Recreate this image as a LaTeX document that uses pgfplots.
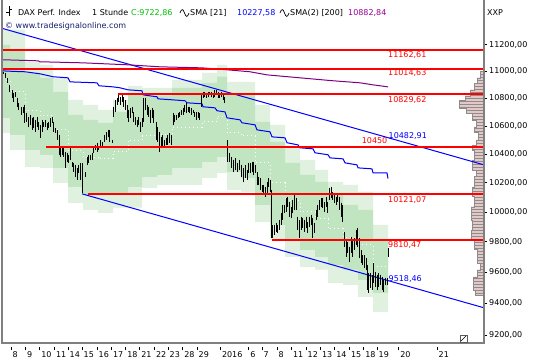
\documentclass[border=0pt]{standalone}
\usepackage{pgfplots}
\pgfplotsset{compat=1.18}
\usetikzlibrary{patterns}
\usepackage{fontspec}
\setmainfont{DejaVu Sans}
\definecolor{bandL}{RGB}{224,241,224}
\definecolor{bandD}{RGB}{192,229,192}
\definecolor{smaB}{RGB}{0,0,255}
\definecolor{smaP}{RGB}{128,0,128}
\definecolor{lineR}{RGB}{255,0,0}
\definecolor{txtG}{RGB}{0,192,0}
\definecolor{txtP}{RGB}{150,0,150}
\definecolor{profF}{RGB}{228,200,200}
\definecolor{profD}{RGB}{140,140,140}
\definecolor{webB}{RGB}{20,30,110}
\newcommand{\tk}[1]{\rule[7.6pt]{0.6pt}{3pt}\hspace{1.5pt}#1}
\newcommand{\fs}{\fontsize{8}{9.6}\selectfont}
\begin{document}
\begin{tikzpicture}[font=\fs]
\useasboundingbox (0,0) rectangle (540pt,360pt);
\fill[white] (0,0) rectangle (540pt,360pt);
\begin{axis}[
  at={(2pt,17pt)}, anchor=south west,
  scale only axis, width=482pt, height=343pt,
  xmin=2, xmax=484, ymode=log, ymin=9150, ymax=11547,
  axis line style={draw=none},
  ytick={9200,9400,9600,9800,10000,10200,10400,10600,10800,11000,11200},
  yticklabels={{9200,00},{9400,00},{9600,00},{9800,00},{10000,00},{10200,00},{10400,00},{10600,00},{10800,00},{11000,00},{11200,00}},
  yticklabel pos=right, ytick pos=right, xtick pos=left,
  yminorticks=false, xminorticks=false,
  tick align=outside, major tick length=3pt,
  ytick style={draw=black, line width=0.6pt},
  xtick style={draw=none},
  yticklabel style={anchor=west, inner xsep=2pt, font=\fs, text=black},
  xtick={10.7,25,39.3,54,67.7,81.7,96.7,111,125.3,139.3,154,167.7,182.3,196.7,220,248.3,261.7,276.7,291,305.7,320,334.3,349,363.3,376.7,398.3,436.7},
  xticklabels={\tk{8},\tk{9},\tk{10},\tk{11},\tk{14},\tk{15},\tk{16},\tk{17},\tk{18},\tk{21},\tk{22},\tk{23},\tk{28},\tk{29},\tk{2016},\tk{6},\tk{7},\tk{8},\tk{11},\tk{12},\tk{13},\tk{14},\tk{15},\tk{18},\tk{19},\tk{20},\tk{21}},
  xticklabel style={anchor=north west, inner sep=0pt, yshift=-1pt, xshift=-0.3pt, font=\fs, text=black},
  unbounded coords=jump,
  clip=true,
]
% outer (light) band
\addplot[fill=bandL, draw=none] coordinates {
(2,11315)(10,11315)(25,11315)(25,11072)(40,11072)(40,11049)(53,11049)(53,10952)(68,10952)(68,10790)(83,10790)(83,10753)(98,10753)(98,10717)(113,10717)(113,10790)(128,10790)(128,10893)(142,10893)(142,10878)(172,10878)(172,10937)(202,10937)(202,10989)(217,10989)(217,11049)(227,11049)(227,10922)(255,10922)(255,10753)(270,10753)(270,10608)(285,10608)(285,10444)(300,10444)(300,10359)(315,10359)(315,10289)(328,10289)(328,10206)(343,10206)(343,10185)(358,10185)(358,10137)(373,10137)(373,9912)(388,9912)
(388,9344)(373,9344)(373,9440)(358,9440)(358,9517)(343,9517)(343,9530)(328,9530)(328,9615)(315,9615)(315,9634)(300,9634)(300,9700)(285,9700)(285,9812)(270,9812)(270,9933)(255,9933)(255,10137)(241,10137)(241,10151)(227,10151)(227,10268)(217,10268)(217,10234)(202,10234)(202,10185)(157,10185)(157,10165)(142,10165)(142,10028)(113,10028)(113,9994)(98,9994)(98,10014)(83,10014)(83,10062)(68,10062)(68,10199)(53,10199)(53,10303)(40,10303)(40,10310)(25,10310)(25,10430)(10,10430)(10,10551)(2,10551)} -- cycle;
% inner (dark) band
\addplot[fill=bandD, draw=none] coordinates {
(2,11200)(10,11200)(10,11162)(25,11162)(25,10989)(40,10989)(40,10952)(53,10952)(53,10849)(68,10849)(68,10681)(83,10681)(83,10644)(98,10644)(98,10623)(113,10623)(113,10702)(128,10702)(128,10827)(142,10827)(142,10819)(172,10819)(172,10878)(202,10878)(202,10915)(217,10915)(217,10960)(227,10960)(227,10827)(255,10827)(255,10630)(270,10630)(270,10487)(285,10487)(285,10338)(300,10338)(300,10255)(315,10255)(315,10206)(328,10206)(328,10130)(343,10130)(343,10048)(358,10048)(358,10014)(373,10014)(373,9812)(388,9812)
(388,9466)(373,9466)(373,9550)(358,9550)(358,9615)(343,9615)(343,9647)(328,9647)(328,9700)(315,9700)(315,9746)(300,9746)(300,9812)(285,9812)(285,9913)(270,9913)(270,10048)(255,10048)(255,10234)(241,10234)(241,10275)(227,10275)(227,10381)(217,10381)(217,10345)(202,10345)(202,10303)(172,10303)(172,10255)(157,10255)(157,10241)(142,10241)(142,10171)(128,10171)(128,10130)(113,10130)(113,10116)(83,10116)(83,10171)(68,10171)(68,10303)(53,10303)(53,10395)(40,10395)(40,10430)(25,10430)(25,10537)(10,10537)(10,10659)(2,10659)} -- cycle;
% white dotted mid line
\addplot[white, line width=0.8pt, dash pattern=on 1pt off 3pt] coordinates {
(2,10930)(10,10930)(10,10850)(25,10850)(25,10710)(40,10710)(40,10674)(53,10674)(53,10576)(68,10576)(68,10426)(83,10426)(83,10380)(98,10380)(98,10370)(113,10370)(113,10416)(128,10416)(128,10499)(142,10499)(142,10530)(157,10530)(157,10537)(172,10537)(172,10591)(202,10591)(202,10630)(217,10630)(217,10670)(227,10670)(227,10551)(241,10551)(241,10530)(255,10530)(255,10339)(270,10339)(270,10200)(285,10200)(285,10075)(300,10075)(300,10000)(315,10000)(315,9953)(328,9953)(328,9889)(343,9889)(343,9831)(358,9831)(358,9782)(373,9782)(373,9639)(388,9639)};
% volume profile
\addplot[fill=profF, draw=profD, line width=0.6pt, postaction={pattern=horizontal lines, pattern color=profD}] coordinates {
(484,10997)(480,10997)(480,10952)(477,10952)(477,10908)(474,10908)(474,10863)(470,10863)(470,10819)(465,10819)(465,10783)(459,10783)(459,10731)(466,10731)(466,10688)(472,10688)(472,10644)(476,10644)(476,10594)(474,10594)(474,10551)(478,10551)(478,10501)(476,10501)(476,10465)(472,10465)(472,10430)(474,10430)(474,10359)(472,10359)(472,10289)(476,10289)(476,10241)(474,10241)(474,10171)(472,10171)(472,10103)(474,10103)(474,10034)(471,10034)(471,9946)(472,9946)(472,9879)(471,9879)(471,9812)(474,9812)(474,9746)(477,9746)(477,9660)(480,9660)(480,9614.5)(477,9614.5)(477,9569)(473,9569)(473,9485)(475,9485)(475,9453)(484,9453)} -- cycle;
% channel lines
\addplot[smaB, line width=1pt] coordinates {(2,11326)(484,10324)};
\addplot[smaB, line width=1pt] coordinates {(82,10123)(484,9370)};
% SMA 200
\addplot[smaP, line width=1pt] coordinates {(2,11087)(38,11079)(40,11072)(83,11064)(128,11049)(160,11034)(202,11026)(227,11012)(250,10997)(267,10974)(300,10952)(333,10930)(360,10915)(373,10900)(388,10885)};
% SMA 21
\addplot[smaB, line width=1pt] coordinates {(2,11004)(13,11000)(25,10997)(40,10982)(53,10960)(68,10952)(70,10922)(97,10915)(99,10893)(113,10885)(120,10878)(128,10863)(142,10856)(143,10826)(157,10812)(158,10797)(172,10790)(185,10783)(187,10768)(202,10761)(203,10739)(215,10731)(217,10710)(225,10702)(227,10659)(240,10644)(242,10623)(255,10608)(257,10572)(270,10558)(272,10522)(285,10515)(287,10480)(298,10465)(300,10444)(313,10437)(315,10409)(328,10395)(330,10373)(343,10366)(345,10338)(357,10324)(358,10303)(372,10296)(373,10268)(387,10268)(388,10228)};
% price bars (high-low)
\addplot[black, line width=0.85pt] coordinates {
(3,10997)(3,10982)(3,nan)(5,10989)(5,10952)(5,nan)(7,10952)(7,10915)(7,nan)(9,10900)(9,10848)(9,nan)(12,10863)(12,10804)(12,nan)(13,10841)(13,10775)(13,nan)(15,10849)(15,10812)(15,nan)(17,10805)(17,10739)(17,nan)(18,10768)(18,10717)(18,nan)(21,10739)(21,10681)(21,nan)(23,10739)(23,10695)(23,nan)(24,10753)(24,10623)(24,nan)(26,10695)(26,10630)(26,nan)(28,10666)(28,10594)(28,nan)(30,10681)(30,10608)(30,nan)(32,10659)(32,10572)(32,nan)(33,10666)(33,10587)(33,nan)(35,10644)(35,10558)(35,nan)(37,10666)(37,10594)(37,nan)(38,10630)(38,10572)(38,nan)(40,10608)(40,10515)(40,nan)(42,10644)(42,10558)(42,nan)(43,10630)(43,10594)(43,nan)(45,10644)(45,10594)(45,nan)(47,10623)(47,10572)(47,nan)(48,10630)(48,10587)(48,nan)(50,10659)(50,10594)(50,nan)(52,10666)(52,10623)(52,nan)(53,10630)(53,10558)(53,nan)(55,10587)(55,10551)(55,nan)(57,10572)(57,10501)(57,nan)(59,10537)(59,10395)(59,nan)(60,10451)(60,10381)(60,nan)(62,10451)(62,10395)(62,nan)(63,10451)(63,10381)(63,nan)(65,10416)(65,10303)(65,nan)(67,10409)(67,10345)(67,nan)(68,10395)(68,10338)(68,nan)(70,10451)(70,10359)(70,nan)(72,10345)(72,10310)(72,nan)(73,10338)(73,10275)(73,nan)(75,10324)(75,10241)(75,nan)(77,10303)(77,10220)(77,nan)(78,10324)(78,10268)(78,nan)(80,10338)(80,10220)(80,nan)(82,10338)(82,10130)(82,nan)(85,10275)(85,10241)(85,nan)(87,10381)(87,10324)(87,nan)(88,10395)(88,10338)(88,nan)(90,10395)(90,10359)(90,nan)(92,10409)(92,10359)(92,nan)(93,10451)(93,10409)(93,nan)(95,10465)(95,10430)(95,nan)(97,10480)(97,10416)(97,nan)(98,10458)(98,10430)(98,nan)(100,10501)(100,10451)(100,nan)(102,10487)(102,10444)(102,nan)(104,10537)(104,10487)(104,nan)(106,10558)(106,10501)(106,nan)(108,10572)(108,10522)(108,nan)(109,10572)(109,10487)(109,nan)(112,10501)(112,10480)(112,nan)(113,10739)(113,10666)(113,nan)(115,10790)(115,10702)(115,nan)(117,10805)(117,10753)(117,nan)(118,10826)(118,10775)(118,nan)(120,10812)(120,10753)(120,nan)(122,10826)(122,10775)(122,nan)(123,10812)(123,10739)(123,nan)(125,10790)(125,10717)(125,nan)(127,10753)(127,10659)(127,nan)(128,10717)(128,10630)(128,nan)(130,10731)(130,10659)(130,nan)(132,10739)(132,10695)(132,nan)(133,10702)(133,10630)(133,nan)(135,10666)(135,10608)(135,nan)(137,10644)(137,10594)(137,nan)(138,10666)(138,10608)(138,nan)(140,10630)(140,10558)(140,nan)(142,10659)(142,10594)(142,nan)(143,10805)(143,10630)(143,nan)(145,10805)(145,10717)(145,nan)(147,10753)(147,10681)(147,nan)(148,10739)(148,10666)(148,nan)(150,10717)(150,10623)(150,nan)(152,10731)(152,10659)(152,nan)(153,10717)(153,10623)(153,nan)(156,10630)(156,10501)(156,nan)(157,10594)(157,10487)(157,nan)(159,10558)(159,10416)(159,nan)(161,10522)(161,10444)(161,nan)(162,10537)(162,10451)(162,nan)(164,10501)(164,10451)(164,nan)(166,10515)(166,10465)(166,nan)(167,10537)(167,10465)(167,nan)(169,10551)(169,10480)(169,nan)(171,10537)(171,10465)(171,nan)(173,10695)(173,10608)(173,nan)(174,10681)(174,10630)(174,nan)(176,10681)(176,10644)(176,nan)(178,10695)(178,10659)(178,nan)(179,10702)(179,10666)(179,nan)(181,10717)(181,10681)(181,nan)(183,10731)(183,10681)(183,nan)(184,10753)(184,10702)(184,nan)(186,10768)(186,10695)(186,nan)(188,10739)(188,10702)(188,nan)(189,10739)(189,10695)(189,nan)(191,10731)(191,10681)(191,nan)(193,10717)(193,10695)(193,nan)(194,10702)(194,10666)(194,nan)(196,10702)(196,10644)(196,nan)(198,10702)(198,10659)(198,nan)(199,10695)(199,10644)(199,nan)(201,10826)(201,10739)(201,nan)(203,10849)(203,10805)(203,nan)(204,10849)(204,10812)(204,nan)(206,10841)(206,10805)(206,nan)(208,10849)(208,10812)(208,nan)(209,10849)(209,10826)(209,nan)(211,10849)(211,10812)(211,nan)(213,10841)(213,10805)(213,nan)(214,10863)(214,10812)(214,nan)(216,10863)(216,10826)(216,nan)(218,10849)(218,10805)(218,nan)(219,10841)(219,10805)(219,nan)(221,10849)(221,10812)(221,nan)(223,10826)(223,10790)(223,nan)(224,10812)(224,10768)(224,nan)
(227,10501)(227,10345)(227,nan)(229,10409)(229,10345)(229,nan)(231,10381)(231,10303)(231,nan)(233,10359)(233,10275)(233,nan)(235,10373)(235,10289)(235,nan)(237,10338)(237,10275)(237,nan)(239,10359)(239,10289)(239,nan)(241,10324)(241,10241)(241,nan)(243,10303)(243,10206)(243,nan)(245,10324)(245,10234)(245,nan)(247,10289)(247,10220)(247,nan)(248,10338)(248,10268)(248,nan)(250,10338)(250,10268)(250,nan)(252,10345)(252,10275)(252,nan)(253,10345)(253,10255)(253,nan)(255,10324)(255,10268)(255,nan)(257,10275)(257,10185)(257,nan)(258,10241)(258,10185)(258,nan)(260,10234)(260,10151)(260,nan)(262,10185)(262,10137)(262,nan)(263,10185)(263,10130)(263,nan)(265,10171)(265,10103)(265,nan)(267,10206)(267,10130)(267,nan)(268,10234)(268,10171)(268,nan)(270,10220)(270,10137)(270,nan)(271,10151)(271,9826)(271,nan)(272,9912)(272,9826)(272,nan)(274,9912)(274,9845)(274,nan)(276,9926)(276,9866)(276,nan)(277,9912)(277,9859)(277,nan)(279,9946)(279,9879)(279,nan)(281,9994)(281,9912)(281,nan)(282,10048)(282,9946)(282,nan)(284,10048)(284,9994)(284,nan)(286,10096)(286,10000)(286,nan)(287,10103)(287,10034)(287,nan)(289,10068)(289,9967)(289,nan)(291,10034)(291,9960)(291,nan)(292,10082)(292,9994)(292,nan)(294,10116)(294,10014)(294,nan)(296,10096)(296,10014)(296,nan)(297,9967)(297,9879)(297,nan)(299,9946)(299,9826)(299,nan)(301,9967)(301,9879)(301,nan)(302,9960)(302,9892)(302,nan)(304,9946)(304,9866)(304,nan)(306,9967)(306,9892)(306,nan)(307,9933)(307,9859)(307,nan)(309,9967)(309,9899)(309,nan)(311,9980)(311,9912)(311,nan)(312,9960)(312,9826)(312,nan)(314,9926)(314,9859)(314,nan)(316,10014)(316,9946)(316,nan)(317,10048)(317,9967)(317,nan)(319,10082)(319,10014)(319,nan)(321,10096)(321,10034)(321,nan)(322,10096)(322,10028)(322,nan)(324,10068)(324,10000)(324,nan)(326,10103)(326,10034)(326,nan)(327,10068)(327,9994)(327,nan)(329,10165)(329,10082)(329,nan)(331,10171)(331,10096)(331,nan)(332,10137)(332,10082)(332,nan)(334,10130)(334,10062)(334,nan)(336,10103)(336,10048)(336,nan)(337,10116)(337,10068)(337,nan)(339,10103)(339,10014)(339,nan)(341,10062)(341,9967)(341,nan)(342,10048)(342,9933)(342,nan)(344,9866)(344,9766)(344,nan)(346,9812)(346,9700)(346,nan)(347,9799)(347,9726)(347,nan)(349,9766)(349,9667)(349,nan)(351,9832)(351,9726)(351,nan)(352,9812)(352,9700)(352,nan)(354,9826)(354,9746)(354,nan)(356,9879)(356,9779)(356,nan)(357,9892)(357,9766)(357,nan)(359,9826)(359,9693)(359,nan)(361,9746)(361,9660)(361,nan)(362,9713)(362,9647)(362,nan)(364,9713)(364,9628)(364,nan)(366,9693)(366,9615)(366,nan)(367,9647)(367,9485)(367,nan)(368,9595)(368,9466)(368,nan)(370,9595)(370,9498)(370,nan)(372,9582)(372,9485)(372,nan)(373,9660)(373,9530)(373,nan)(375,9602)(375,9504)(375,nan)(377,9582)(377,9485)(377,nan)(378,9595)(378,9504)(378,nan)(380,9582)(380,9517)(380,nan)(382,9569)(382,9485)(382,nan)(383,9550)(383,9472)(383,nan)(385,9563)(385,9517)(385,nan)(387,9563)(387,9517)(387,nan)(388,9759)(388,9700)(388,nan)};
% red horizontal lines
\addplot[draw=red, line width=2pt] coordinates {(2.5,11162.61)(484,11162.61)};
\addplot[draw=red, line width=2pt] coordinates {(2.5,11014.63)(484,11014.63)};
\addplot[draw=red, line width=2pt] coordinates {(118,10829.62)(484,10829.62)};
\addplot[draw=red, line width=2pt] coordinates {(46,10450)(484,10450)};
\addplot[draw=red, line width=2pt] coordinates {(88,10121.07)(484,10121.07)};
\addplot[draw=red, line width=2pt] coordinates {(272,9810.47)(484,9810.47)};
% labels
\node[anchor=west, inner sep=0pt, text=lineR] at (axis cs:388,11124) {11162,61};
\node[anchor=west, inner sep=0pt, text=lineR] at (axis cs:388,10989) {11014,63};
\node[anchor=west, inner sep=0pt, text=lineR] at (axis cs:388,10790) {10829,62};
\node[anchor=east, inner sep=0pt, text=lineR] at (axis cs:387.5,10494) {10450};
\node[anchor=west, inner sep=0pt, text=smaB] at (axis cs:388.5,10530) {10482,91};
\node[anchor=west, inner sep=0pt, text=lineR] at (axis cs:388,10082) {10121,07};
\node[anchor=west, inner sep=0pt, text=lineR] at (axis cs:388,9779) {9810,47};
\node[anchor=west, inner sep=0pt, text=smaB] at (axis cs:388.5,9553) {9518,46};
\end{axis}
% frame
\draw[gray, line width=1.2pt] (2pt,360pt) -- (2pt,17pt) -- (484pt,17pt) -- (484pt,360pt);
% bottom-right icon
\draw[gray!70!black, line width=0.5pt] (460pt,18pt) rectangle (467pt,25pt);
\draw[black, line width=0.6pt] (461pt,19pt) -- (466pt,24pt);
% header
\draw[line width=0.7pt] (9pt,354pt) -- (9pt,344pt) (6pt,348pt) -- (9pt,348pt) (9pt,351pt) -- (12pt,351pt);
\node[anchor=base west, inner sep=0pt] at (18pt,345pt) {DAX Perf. Index};
\node[anchor=base west, inner sep=0pt] at (92pt,345pt) {1 Stunde};
\node[anchor=base west, inner sep=0pt, text=txtG] at (131pt,345pt) {C:9722,86};
\draw[line width=0.7pt] (180pt,347pt) .. controls (181.5pt,351.5pt) and (183pt,351.5pt) .. (184.5pt,347pt) .. controls (186pt,342.5pt) and (187.5pt,342.5pt) .. (189pt,347pt);
\node[anchor=base west, inner sep=0pt] at (190pt,345pt) {SMA [21]};
\node[anchor=base west, inner sep=0pt, text=smaB] at (237pt,345pt) {10227,58};
\draw[line width=0.7pt] (280pt,347pt) .. controls (281.5pt,351.5pt) and (283pt,351.5pt) .. (284.5pt,347pt) .. controls (286pt,342.5pt) and (287.5pt,342.5pt) .. (289pt,347pt);
\node[anchor=base west, inner sep=0pt] at (290pt,345pt) {SMA(2) [200]};
\node[anchor=base west, inner sep=0pt, text=txtP] at (348pt,345pt) {10882,84};
\node[anchor=base west, inner sep=0pt, text=webB] at (5pt,332pt) {© www.tradesignalonline.com};
\node[anchor=base west, inner sep=0pt] at (487pt,345pt) {XXP};
\end{tikzpicture}
\end{document}
